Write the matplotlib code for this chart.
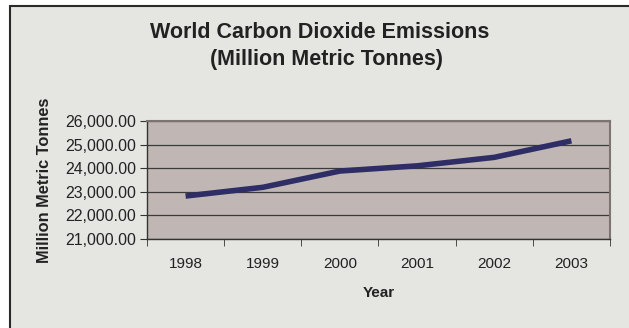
import numpy as np
import matplotlib.pyplot as plt
from matplotlib.patches import Rectangle
from matplotlib.ticker import FuncFormatter, FixedLocator

plt.rcParams['font.family'] = ['Liberation Sans', 'DejaVu Sans']

years = ['1998', '1999', '2000', '2001', '2002', '2003']
emissions = [22820, 23190, 23880, 24100, 24460, 25160]

W, H = 629, 328
fig = plt.figure(figsize=(W / 100, H / 100), dpi=100)
fig.patch.set_facecolor('white')

# tło z ramką (wychodzi poza prawą i dolną krawędź)
bg = fig.add_axes([0, 0, 1, 1], zorder=-1)
bg.set_xlim(0, W)
bg.set_ylim(H, 0)
bg.axis('off')
bg.add_patch(Rectangle((10, 6), W, H, facecolor='#E5E6E2',
                       edgecolor='#2a2a2a', linewidth=1.5))

# obszar wykresu w pikselach: lewo 147, prawo 610, góra 121, dół 239
ax = fig.add_axes([147 / W, 1 - 239 / H, (610 - 147) / W, (239 - 121) / H])
ax.set_facecolor('#C0B7B4')

x = np.arange(len(years))
ax.plot(x, emissions, color='#2E2D66', linewidth=4, solid_capstyle='butt',
        solid_joinstyle='round', zorder=3)

ax.set_xlim(-0.5, len(years) - 0.5)
ax.set_ylim(21000, 26000)
ax.set_yticks(np.arange(21000, 26001, 1000))
ax.yaxis.set_major_formatter(FuncFormatter(lambda v, p: f"{v:,.2f}"))
ax.set_xticks(x)
ax.set_xticklabels(years)
ax.xaxis.set_minor_locator(FixedLocator(np.arange(-0.5, len(years), 1.0)))

ax.grid(axis='y', color='#3a3a3a', linewidth=0.9)
ax.set_axisbelow(True)

for side in ['top', 'right']:
    ax.spines[side].set_color('#7d7370')
    ax.spines[side].set_linewidth(1.5)
for side in ['left', 'bottom']:
    ax.spines[side].set_color('#333333')
    ax.spines[side].set_linewidth(1.0)

ax.tick_params(axis='y', which='major', length=5, color='#333333',
               labelsize=11.5, labelcolor='#222222', pad=3)
ax.tick_params(axis='x', which='major', length=0, labelsize=11,
               labelcolor='#222222', pad=13)
ax.tick_params(axis='x', which='minor', length=5, color='#333333')

ax.set_xlabel('Year', fontsize=11, fontweight='bold', color='#222222', labelpad=11)
ax.set_ylabel('Million Metric Tonnes', fontsize=11.8, fontweight='bold',
              color='#222222', labelpad=9)

fig.text(320 / W, 1 - 32 / H, 'World Carbon Dioxide Emissions',
         ha='center', va='center', fontsize=15.5, fontweight='bold', color='#222222')
fig.text(326 / W, 1 - 60 / H, '(Million Metric Tonnes)',
         ha='center', va='center', fontsize=15.5, fontweight='bold', color='#222222')

fig.savefig('out.png', dpi=100)
